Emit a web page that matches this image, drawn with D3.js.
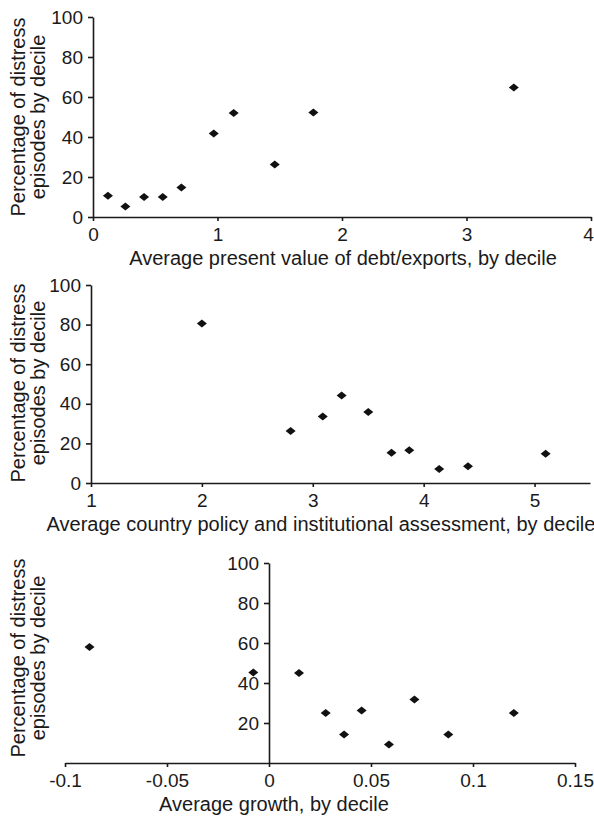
<!DOCTYPE html>
<html lang="en">
	<head>
		<meta charset="utf-8">
		<title>Distress episodes by decile</title>
		<script type="text/javascript" src="https://cdn.jsdelivr.net/npm/d3@7"></script>
		<style>
			body {
				margin: 0;
				background: #fff;
			}
			svg text {
				font-family: "Liberation Sans", Arial, sans-serif;
				fill: #1a1a1a;
			}
			.axis path, .axis line {
				stroke: #1a1a1a;
				stroke-width: 1.6;
			}
		</style>
	</head>
	<body>
		<div id="vis"></div>

		<script type="text/javascript">
			// panel 1: debt/exports
			var debtX = [0.12, 0.26, 0.41, 0.56, 0.71, 0.97, 1.13, 1.46, 1.77, 3.38];
			var debtY = [10.6, 5.2, 10, 10, 14.7, 41.8, 52, 26.2, 52.2, 64.7];
			var debtTicks = [0, 1, 2, 3, 4];

			// panel 2: CPIA
			var cpiaX = [2.0, 2.8, 3.09, 3.26, 3.5, 3.71, 3.87, 4.14, 4.4, 5.1];
			var cpiaY = [80.5, 26.2, 33.6, 44.2, 35.8, 15.3, 16.6, 7.1, 8.4, 14.8];
			var cpiaTicks = [1, 2, 3, 4, 5];

			// panel 3: growth
			var growthX = [-0.088, -0.0077, 0.0147, 0.0278, 0.0368, 0.0454, 0.0588, 0.0713, 0.0879, 0.12];
			var growthY = [58, 45.3, 45, 25, 14.2, 26.3, 9.2, 31.8, 14.2, 25];
			var growthTicks = [-0.1, -0.05, 0, 0.05, 0.1, 0.15];
			var growthTickLabels = ["-0.1", "-0.05", "0", "0.05", "0.1", "0.15"];

			var pctTicks = [0, 20, 40, 60, 80, 100];
			var yTitle = ["Percentage of distress", "episodes by decile"];

			var svg = d3.select("#vis").append("svg").attr("width", 594).attr("height", 817);

			var diamond = "M-5,0L0,-4L5,0L0,4Z";

			var drawPanel = function(p) {
				var x = d3.scaleLinear().domain(p.xDomain).range(p.xRange);
				var y = d3.scaleLinear().domain([0, 100]).range(p.yRange);
				var g = svg.append("g");

				var xAxis = d3.axisBottom(x).tickValues(p.xTicks).tickSize(4).tickSizeOuter(0).tickPadding(7)
						.tickFormat(function(d, i) { return p.xLabels ? p.xLabels[i] : d; });
				var xg = g.append("g").attr("class", "axis")
						.attr("transform", "translate(0," + y(0) + ")")
						.call(xAxis);
				// keep the last label inside the page
				xg.selectAll(".tick text").filter(function(d) { return x(d) > 585; }).attr("dx", -3);

				var yAxis = d3.axisLeft(y).tickValues(p.yTicks).tickSize(5).tickSizeOuter(0).tickPadding(5);
				g.append("g").attr("class", "axis")
						.attr("transform", "translate(" + x(p.yAt) + ",0)")
						.call(yAxis);

				g.selectAll(".axis text").attr("font-size", 19);
				g.selectAll(".axis .domain").attr("stroke-width", 1.8);

				var pts = p.xs.map(function(v, i) { return [v, p.ys[i]]; });
				g.selectAll("path.pt").data(pts).enter().append("path")
						.attr("class", "pt")
						.attr("d", diamond)
						.attr("fill", "#111")
						.attr("transform", function(d) {
							return "translate(" + x(d[0]) + "," + y(d[1]) + ")";
						});

				g.append("text")
						.attr("x", p.titleX)
						.attr("y", y(0) + 48)
						.attr("text-anchor", "middle")
						.attr("font-size", 20)
						.text(p.title);

				var midY = (p.yRange[0] + p.yRange[1]) / 2 + p.titleShift;
				yTitle.forEach(function(line, i) {
					g.append("text")
							.attr("transform", "translate(" + (25 + i * 20) + "," + midY + ") rotate(-90)")
							.attr("text-anchor", "middle")
							.attr("font-size", 20)
							.text(line);
				});
			};

			drawPanel({
				xs: debtX, ys: debtY,
				xDomain: [0, 4], xRange: [93, 591],
				yRange: [217, 17],
				xTicks: debtTicks, yTicks: pctTicks, yAt: 0,
				title: "Average present value of debt/exports, by decile", titleX: 343,
				titleShift: 0
			});

			drawPanel({
				xs: cpiaX, ys: cpiaY,
				xDomain: [1, 5.5], xRange: [91, 590],
				yRange: [483, 285],
				xTicks: cpiaTicks, yTicks: pctTicks, yAt: 1,
				title: "Average country policy and institutional assessment, by decile", titleX: 321,
				titleShift: -1
			});

			drawPanel({
				xs: growthX, ys: growthY,
				xDomain: [-0.1, 0.15], xRange: [65, 575],
				yRange: [763, 563],
				xTicks: growthTicks, xLabels: growthTickLabels, yTicks: pctTicks.slice(1), yAt: 0,
				title: "Average growth, by decile", titleX: 274,
				titleShift: -5
			});
		</script>
	</body>
</html>
